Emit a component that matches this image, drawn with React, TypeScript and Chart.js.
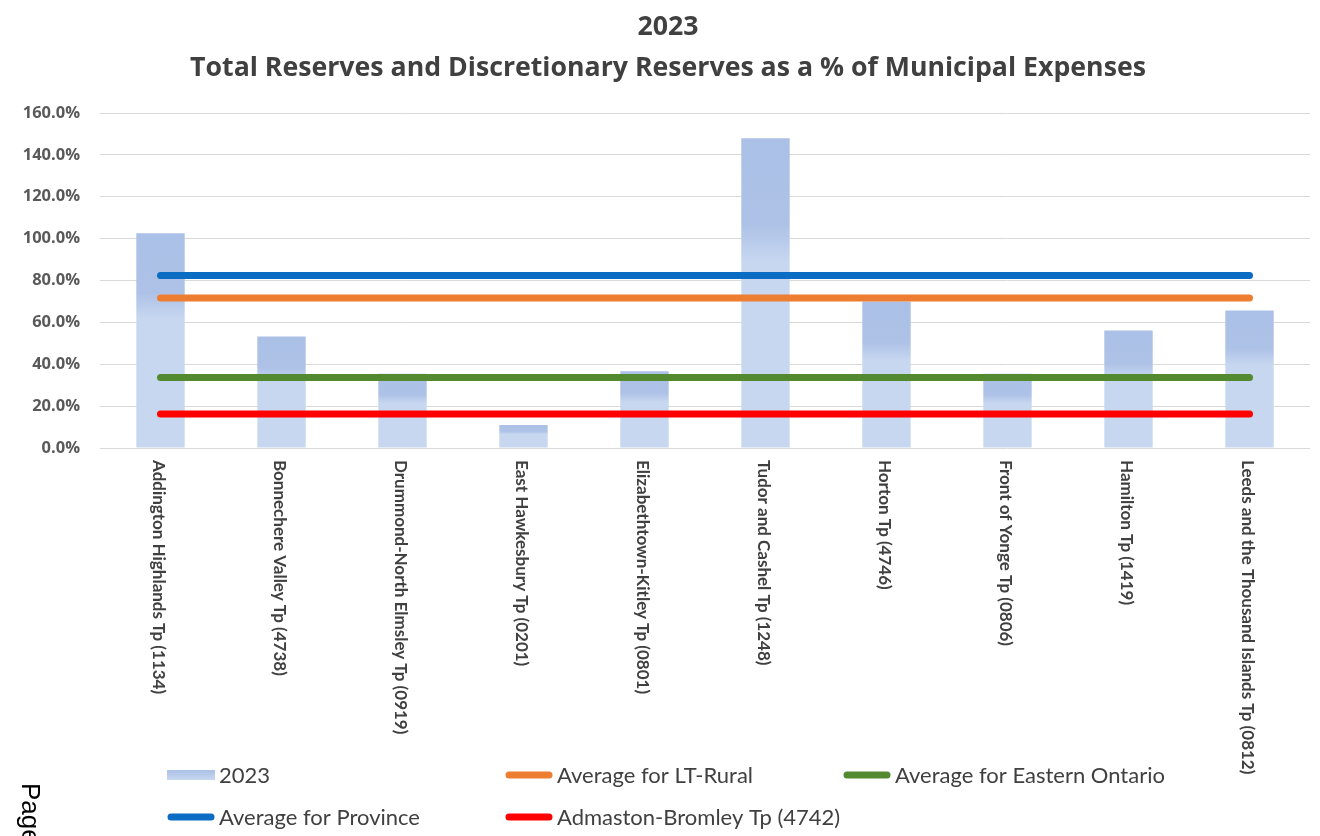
import React, { useEffect, useRef } from 'react';
import { Chart, registerables } from 'chart.js';

Chart.register(...registerables);

const titleLines = ['2023', 'Total Reserves and Discretionary Reserves as a % of Municipal Expenses'];

const categories = [
  'Addington Highlands Tp (1134)',
  'Bonnechere Valley Tp (4738)',
  'Drummond-North Elmsley Tp (0919)',
  'East Hawkesbury Tp (0201)',
  'Elizabethtown-Kitley Tp (0801)',
  'Tudor and Cashel Tp (1248)',
  'Horton Tp (4746)',
  'Front of Yonge Tp (0806)',
  'Hamilton Tp (1419)',
  'Leeds and the Thousand Islands Tp (0812)',
];

const reserves2023 = [102.6, 53.3, 35.5, 11.0, 36.6, 148.0, 70.0, 35.5, 56.1, 65.7];

const avgLTRural = 71.6;
const avgEasternOntario = 33.7;
const avgProvince = 82.4;
const admastonBromley = 16.2;

const yMin = 0;
const yMax = 160;
const yStep = 20;

const seriesNames = [
  '2023',
  'Average for LT-Rural',
  'Average for Eastern Ontario',
  'Average for Province',
  'Admaston-Bromley Tp (4742)',
];

const colors = {
  barDark: '#abc0e6',
  barLight: '#c7d7f0',
  ltRural: '#ed7d31',
  eastern: '#548a2f',
  province: '#0a6cc2',
  admaston: '#ff0000',
  text: '#404040',
  tick: '#595959',
  grid: '#d9d9d9',
};

const TITLE_FONT = 'bold 26.7px "Open Sans", sans-serif';
const LABEL_FONT = 'bold 17px Lato, "Open Sans", sans-serif';
const LEGEND_FONT = '22px Lato, "Open Sans", sans-serif';

const titlePlugin = {
  id: 'titleLines',
  afterDraw(chart: any) {
    const { ctx } = chart;
    const cx = 668;
    const ys = [27, 68];
    ctx.save();
    ctx.fillStyle = colors.text;
    ctx.font = TITLE_FONT;
    ctx.textAlign = 'center';
    ctx.textBaseline = 'middle';
    titleLines.forEach((t, i) => ctx.fillText(t, cx, ys[i]));
    ctx.restore();
  },
};

const xLabelsPlugin = {
  id: 'xLabelsClockwise',
  afterDraw(chart: any) {
    const { ctx, chartArea } = chart;
    const xs = chart.scales.x;
    ctx.save();
    ctx.fillStyle = colors.text;
    ctx.font = LABEL_FONT;
    ctx.textAlign = 'left';
    ctx.textBaseline = 'middle';
    categories.forEach((label, i) => {
      const x = xs.getPixelForValue(i) - 2;
      const y = chartArea.bottom + 12;
      ctx.save();
      ctx.translate(x, y);
      ctx.rotate(Math.PI / 2);
      ctx.fillText(label, 0, 0);
      ctx.restore();
    });
    ctx.restore();
  },
};

const legendPlugin = {
  id: 'gridLegend',
  afterDraw(chart: any) {
    const { ctx } = chart;
    const items = [
      { name: seriesNames[0], kind: 'bar', color: colors.barLight, col: 0, row: 0 },
      { name: seriesNames[1], kind: 'line', color: colors.ltRural, col: 1, row: 0 },
      { name: seriesNames[2], kind: 'line', color: colors.eastern, col: 2, row: 0 },
      { name: seriesNames[3], kind: 'line', color: colors.province, col: 0, row: 1 },
      { name: seriesNames[4], kind: 'line', color: colors.admaston, col: 1, row: 1 },
    ];
    const colX = [167, 505, 843];
    const rowY = [775, 817];
    ctx.save();
    ctx.font = LEGEND_FONT;
    ctx.textAlign = 'left';
    ctx.textBaseline = 'middle';
    items.forEach((it) => {
      const x0 = colX[it.col];
      const y = rowY[it.row];
      if (it.kind === 'bar') {
        const g = ctx.createLinearGradient(0, y - 5, 0, y + 5);
        g.addColorStop(0, colors.barDark);
        g.addColorStop(1, colors.barLight);
        ctx.fillStyle = g;
        ctx.fillRect(x0, y - 5, 48, 10);
      } else {
        ctx.strokeStyle = it.color;
        ctx.lineWidth = 7;
        ctx.lineCap = 'round';
        ctx.beginPath();
        ctx.moveTo(x0 + 4, y);
        ctx.lineTo(x0 + 44, y);
        ctx.stroke();
      }
      ctx.fillStyle = colors.text;
      ctx.fillText(it.name, x0 + 52, y + 1);
    });
    ctx.restore();
  },
};

function barGradient(context: any) {
  const chart = context.chart;
  const v = context.raw;
  const ys = chart.scales && chart.scales.y;
  if (typeof v !== 'number' || !ys) return colors.barLight;
  const top = ys.getPixelForValue(v);
  const base = ys.getPixelForValue(0);
  if (!isFinite(top) || !isFinite(base) || base - top < 1) return colors.barLight;
  const g = chart.ctx.createLinearGradient(0, top, 0, base);
  g.addColorStop(0, colors.barDark);
  g.addColorStop(0.28, '#aec2e7');
  g.addColorStop(0.4, colors.barLight);
  g.addColorStop(1, colors.barLight);
  return g;
}

function lineDataset(label: string, value: number, color: string) {
  return {
    type: 'line' as const,
    label,
    data: categories.map(() => value),
    borderColor: color,
    backgroundColor: color,
    borderWidth: 7,
    borderCapStyle: 'round' as const,
    pointRadius: 0,
    pointHoverRadius: 0,
    fill: false,
    tension: 0,
    order: 1,
  };
}

export default function App() {
  const canvasRef = useRef<HTMLCanvasElement | null>(null);

  useEffect(() => {
    if (!canvasRef.current) return;
    const chart = new Chart(canvasRef.current, {
      type: 'bar',
      data: {
        labels: categories,
        datasets: [
          {
            type: 'bar',
            label: seriesNames[0],
            data: reserves2023,
            backgroundColor: barGradient as any,
            borderWidth: 0,
            barPercentage: 0.4,
            categoryPercentage: 1,
            order: 10,
          } as any,
          lineDataset(seriesNames[1], avgLTRural, colors.ltRural),
          lineDataset(seriesNames[2], avgEasternOntario, colors.eastern),
          lineDataset(seriesNames[3], avgProvince, colors.province),
          lineDataset(seriesNames[4], admastonBromley, colors.admaston),
        ],
      },
      options: {
        responsive: false,
        animation: false,
        layout: { padding: { top: 113, left: 0, right: 10, bottom: 0 } },
        plugins: {
          legend: { display: false },
          tooltip: { enabled: false },
          title: { display: false },
        },
        scales: {
          x: {
            grid: { display: false },
            border: { display: false },
            ticks: { display: false },
            afterFit: (scale: any) => {
              scale.height = 388;
            },
          },
          y: {
            min: yMin,
            max: yMax,
            border: { display: false },
            grid: { color: colors.grid, drawTicks: false, lineWidth: 1 },
            ticks: {
              stepSize: yStep,
              padding: 20,
              color: colors.tick,
              font: { family: '"Open Sans", sans-serif', size: 16.5, weight: 'bold' },
              callback: (v: any) => Number(v).toFixed(1) + '%',
            },
            afterFit: (scale: any) => {
              scale.width = 100;
            },
          },
        },
      } as any,
      plugins: [titlePlugin, xLabelsPlugin, legendPlugin],
    });
    return () => chart.destroy();
  }, []);

  return (
    <div
      style={{
        position: 'fixed',
        left: 0,
        top: 0,
        width: 1320,
        height: 836,
        background: '#ffffff',
        overflow: 'hidden',
      }}
    >
      <canvas ref={canvasRef} width={1320} height={836} style={{ display: 'block' }} />
      <div
        style={{
          position: 'absolute',
          left: 46,
          top: 783,
          transformOrigin: '0 0',
          transform: 'rotate(90deg)',
          fontFamily: '"Liberation Sans", Arial, sans-serif',
          fontSize: 26,
          lineHeight: '30px',
          color: '#000000',
          whiteSpace: 'nowrap',
        }}
      >
        Page
      </div>
    </div>
  );
}
